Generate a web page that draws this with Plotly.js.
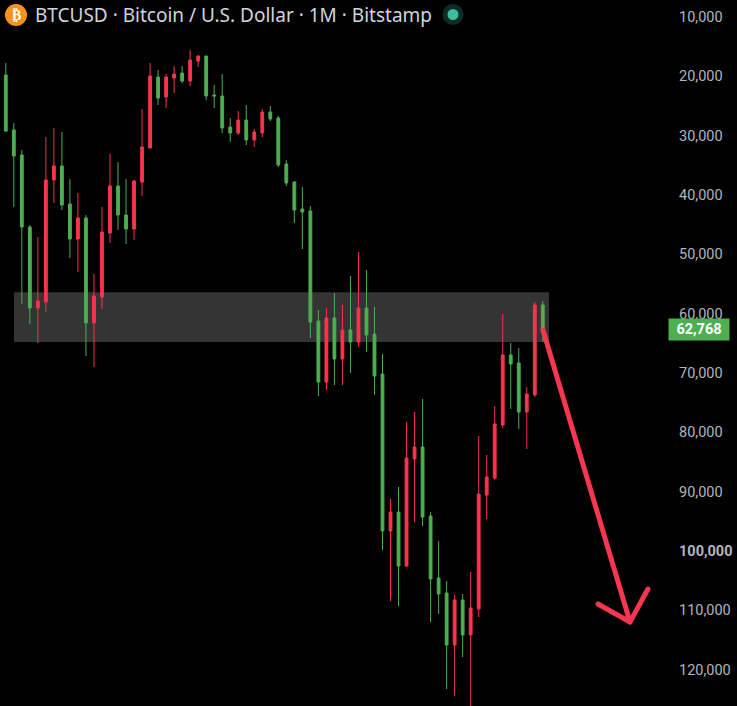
<!DOCTYPE html>
<html><head><meta charset="utf-8">
<script src="https://cdn.plot.ly/plotly-3.0.1.min.js"></script>
<style>html,body{margin:0;padding:0;background:#000;overflow:hidden}#c{width:737px;height:706px}
.shapelayer path{stroke-linecap:round;stroke-linejoin:round}
#c .cartesianlayer .plot path{shape-rendering:crispEdges !important}</style>
</head><body><div id="c"></div>
<script>
const candleOpen = [19780,29050,33270,45410,59060,58050,37480,35120,41530,47430,43890,61590,57210,46420,38490,43380,45740,37820,32090,20120,23490,20280,19440,20790,17420,16580,23150,23320,28550,29560,27370,30740,29560,26020,27030,34780,37820,42370,42710,61250,71540,60750,67660,62770,64800,59060,63450,70190,96660,93460,102560,84520,82500,94130,104590,107110,115880,108290,114200,109810,90590,87730,78790,66990,68340,76600,73730,58560];
const candleHigh = [29390,42030,58390,61760,64960,59740,41360,42540,50630,52990,67160,69010,59230,48100,45910,48270,47600,40180,32090,24840,25340,22810,21130,21630,18430,23990,25340,29560,31080,29890,31580,31920,30230,27530,35290,38490,44730,49120,64120,73900,72890,72050,72050,70020,65640,66480,73730,99860,108460,109310,102730,95140,95820,112000,110650,123300,124480,117900,126500,111160,94640,88060,79300,76090,79460,82840,74070,64800];
const candleLow = [17760,27870,32420,45070,47090,30230,28710,29390,37310,39670,43380,53330,42030,33100,34450,37310,37480,25510,17760,18940,19610,18260,18260,15560,16410,16580,21460,19610,27030,25850,24840,28880,25510,25010,26690,34110,37650,38660,41870,59400,59060,56530,58560,53670,49620,52660,58890,66820,91270,89240,78280,76600,74410,93460,98350,105090,107450,107280,103570,80640,83850,75590,60070,64960,65810,72380,58050,57880];
const candleClose = [29220,33440,45410,59060,57880,37480,35120,41700,47430,43890,61590,57040,46250,38490,43380,45740,37650,31920,19950,23660,20120,19610,20790,17250,16580,23320,23320,28710,29560,27370,30740,29390,26020,27200,34950,37990,42540,42880,61420,71540,60750,67660,62770,64800,59060,63620,70530,96660,93460,102560,84350,82500,94300,104750,107280,115880,108290,114200,109640,90420,87560,78620,66990,68500,76600,73560,58560,62768];
const tickValues = [10000,20000,30000,40000,50000,60000,70000,80000,90000,100000,110000,120000];
const tickLabels = ["10,000","20,000","30,000","40,000","50,000","60,000","70,000","80,000","90,000","<b>100,000</b>","110,000","120,000"];
const zonePrices = [56400,64800];
const zoneBars = [1.02,67.77];
const arrowShaft = {bars:[67.02,77.88], prices:[62768,112000]};
const arrowHeadBars = [73.89,77.88,80.12];
const arrowHeadPrices = [108970,112000,106440];
const lastPrice = 62768;
const titleText = "BTCUSD · Bitcoin / U.S. Dollar · 1M · Bitstamp";
const W=737,H=706,PW=672;
const GREEN='#4caf50',RED='#f7354c',ARROW='#f7374f';
const px=v=>v/PW, py=v=>1-v/H;
const xs=candleOpen.map((_,i)=>i);
const circle=(cx,cy,r,fill)=>({type:'circle',xref:'paper',yref:'paper',x0:px(cx-r),x1:px(cx+r),y0:py(cy+r),y1:py(cy-r),fillcolor:fill,line:{width:0},layer:'above'});
Plotly.newPlot('c',[{
  type:'candlestick',x:xs,open:candleOpen,high:candleHigh,low:candleLow,close:candleClose,
  increasing:{line:{color:GREEN,width:1},fillcolor:GREEN},
  decreasing:{line:{color:RED,width:1},fillcolor:RED},
  whiskerwidth:0,hoverinfo:'skip',yaxis:'y'
}],{
  width:W,height:H,paper_bgcolor:'#000',plot_bgcolor:'#000',showlegend:false,
  margin:{l:0,r:W-PW,t:0,b:0,pad:0},boxgap:0.5,
  font:{family:'"Noto Sans",sans-serif'},
  xaxis:{visible:false,range:[-0.7236,83.12],rangeslider:{visible:false},fixedrange:true},
  yaxis:{side:'right',range:[126165,7134],showgrid:false,zeroline:false,showline:false,ticks:'',ticklen:0,
    tickmode:'array',tickvals:tickValues,ticktext:tickLabels,ticklabelstandoff:6,
    tickfont:{family:'Roboto,sans-serif',size:14.5,color:'#b2b5be'},fixedrange:true},
  shapes:[
    {type:'rect',xref:'x',yref:'y',x0:zoneBars[0],x1:zoneBars[1],y0:zonePrices[0],y1:zonePrices[1],fillcolor:'#343434',line:{width:0},layer:'below'},
    {type:'line',xref:'x',yref:'y',x0:arrowShaft.bars[0],x1:arrowShaft.bars[1],y0:arrowShaft.prices[0],y1:arrowShaft.prices[1],line:{color:ARROW,width:5},layer:'above'},
    {type:'path',xref:'x',yref:'y',path:'M'+arrowHeadBars.map((b,i)=>b+','+arrowHeadPrices[i]).join(' L'),line:{color:ARROW,width:5},layer:'above'},
    circle(16,15,11,'#f7931a'),
    circle(453,14.5,10.5,'#0e2b27'),
    circle(453,14.5,5.5,'#3dbb9f')
  ],
  annotations:[
    {xref:'paper',yref:'paper',x:px(32.5),y:py(15),xanchor:'left',yanchor:'middle',showarrow:false,text:titleText,font:{family:'"Noto Sans",sans-serif',size:19,color:'#d1d4dc'}},
    {xref:'paper',yref:'paper',x:px(16),y:py(15),xanchor:'center',yanchor:'middle',showarrow:false,text:'<b>₿</b>',font:{family:'DejaVu Sans',size:14,color:'#fff'}},
    {xref:'paper',yref:'y',x:px(668),y:lastPrice,xanchor:'left',yanchor:'middle',showarrow:false,text:'<b>62,768</b>',width:58,height:19,bgcolor:GREEN,borderpad:1,align:'center',font:{family:'Roboto,sans-serif',size:14.5,color:'#fff'}}
  ]
},{staticPlot:true,displayModeBar:false});
</script></body></html>
